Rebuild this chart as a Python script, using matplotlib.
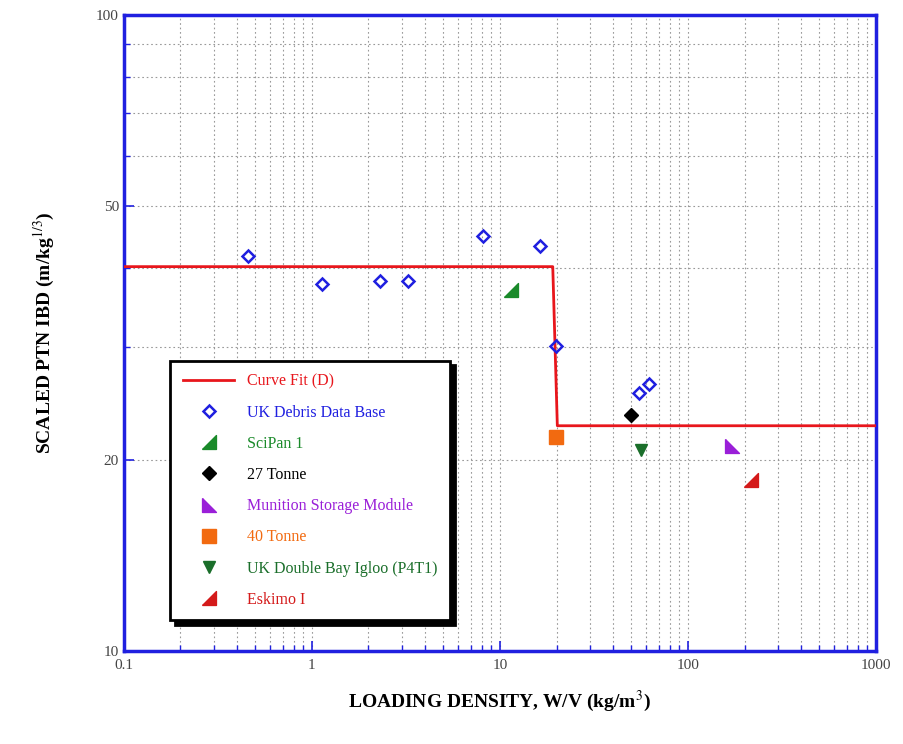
import matplotlib
matplotlib.use('Agg')
import matplotlib.pyplot as plt

plt.rcParams['font.family'] = ['Liberation Serif', 'DejaVu Serif']
plt.rcParams['mathtext.fontset'] = 'stix'

# curve fit (D)
fit_x = [0.1, 19.1, 20.2, 1000]
fit_y = [40.2, 40.2, 22.6, 22.6]

# UK debris data base
ukd_x = [0.457, 1.13, 2.30, 3.24, 8.13, 16.3, 19.9, 54.8, 62.1]
ukd_y = [41.8, 37.8, 38.2, 38.2, 44.9, 43.3, 30.2, 25.4, 26.3]

scipan_x, scipan_y = [11.5], [36.9]
t27_x, t27_y = [49.8], [23.5]
msm_x, msm_y = [171], [21.0]
t40_x, t40_y = [19.9], [21.7]
igloo_x, igloo_y = [56.2], [20.7]
eskimo_x, eskimo_y = [216], [18.6]

# half-square triangle markers
tri_lr = [(-1, -1), (1, -1), (1, 1), (-1, -1)]
tri_ll = [(-1, 1), (-1, -1), (1, -1), (-1, 1)]

fig = plt.figure(figsize=(9.04, 7.44), dpi=100)
ax = fig.add_axes([0.137, 0.125, 0.832, 0.855])

ax.plot(fit_x, fit_y, color='#e8161c', lw=2, label='Curve Fit (D)', zorder=3)
ax.plot(ukd_x, ukd_y, ls='none', marker='D', ms=6, mfc='none', mec='#1f1fe0',
        mew=1.8, label='UK Debris Data Base', zorder=4)
ax.plot(scipan_x, scipan_y, ls='none', marker=tri_lr, ms=10, color='#1a8a2a',
        label='SciPan 1', zorder=4)
ax.plot(t27_x, t27_y, ls='none', marker='D', ms=7, color='black',
        label='27 Tonne', zorder=4)
ax.plot(msm_x, msm_y, ls='none', marker=tri_ll, ms=10, color='#9a1fd8',
        label='Munition Storage Module', zorder=4)
ax.plot(t40_x, t40_y, ls='none', marker='s', ms=10, color='#f26a10',
        label='40 Tonne', zorder=4)
ax.plot(igloo_x, igloo_y, ls='none', marker='v', ms=8, color='#1a6e2a',
        label='UK Double Bay Igloo (P4T1)', zorder=4)
ax.plot(eskimo_x, eskimo_y, ls='none', marker=tri_lr, ms=10, color='#d41a1a',
        label='Eskimo I', zorder=4)

ax.set_xscale('log')
ax.set_yscale('log')
ax.set_xlim(0.1, 1000)
ax.set_ylim(10, 100)

ax.set_xticks([0.1, 1, 10, 100, 1000])
ax.set_xticklabels(['0.1', '1', '10', '100', '1000'])
ax.set_yticks([10, 20, 50, 100])
ax.set_yticklabels(['10', '20', '50', '100'])
ax.set_yticks([30, 40, 60, 70, 80, 90], minor=True)
ax.set_yticklabels([], minor=True)

ax.grid(True, which='both', ls=(0, (1.5, 2.5)), color='#999999', lw=0.8)
for s in ax.spines.values():
    s.set_color('#2020e0')
    s.set_linewidth(2.5)
ax.tick_params(which='both', direction='in', color='#2020e0', labelcolor='#444444',
               labelsize=11)
ax.tick_params(which='major', length=7, width=1.2)
ax.tick_params(which='minor', length=4, width=1)
ax.tick_params(axis='x', pad=6)

ax.set_xlabel('LOADING DENSITY, W/V (kg/m$^3$)', fontsize=14, fontweight='bold',
              labelpad=12)
ax.set_ylabel('SCALED PTN IBD (m/kg$^{1/3}$)', fontsize=14, fontweight='bold',
              labelpad=28)

leg = ax.legend(loc='lower left', bbox_to_anchor=(0.062, 0.048), fontsize=11.5,
                frameon=True, fancybox=False,
                shadow={'ox': 3, 'oy': -3, 'color': 'black', 'alpha': 1},
                labelspacing=0.95, handlelength=3.2, borderpad=0.8,
                borderaxespad=0)
leg.get_frame().set_edgecolor('black')
leg.get_frame().set_linewidth(2)
colors = ['#e8161c', '#1f1fe0', '#1a8a2a', 'black', '#9a1fd8', '#f26a10',
          '#1a6e2a', '#d41a1a']
for t, c in zip(leg.get_texts(), colors):
    t.set_color(c)

fig.savefig('out.png', dpi=100)
